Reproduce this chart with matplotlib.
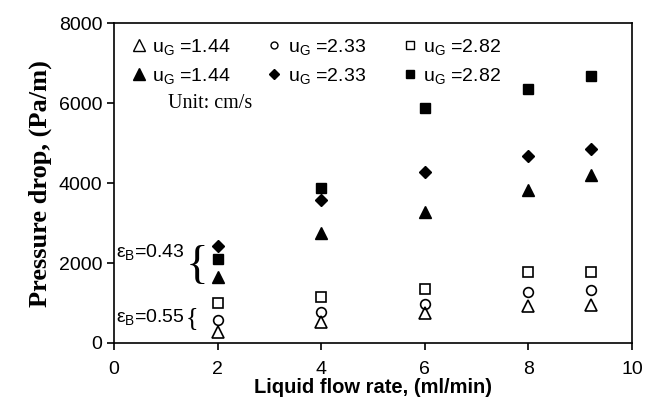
import numpy as np
import matplotlib.pyplot as plt
from matplotlib.lines import Line2D

# liquid flow rate (ml/min)
flow = [2, 4, 6, 8, 9.2]

# eps_B = 0.55 (open markers)
open_144 = [280, 530, 750, 920, 950]
open_233 = [570, 780, 980, 1270, 1320]
open_282 = [1000, 1150, 1350, 1780, 1780]

# eps_B = 0.43 (filled markers)
filled_144 = [1660, 2740, 3280, 3830, 4200]
filled_233 = [2420, 3580, 4270, 4670, 4850]
filled_282 = [2090, 3880, 5870, 6350, 6680]

labels_ug = ['1.44', '2.33', '2.82']

plt.rcParams['font.family'] = ['Liberation Sans', 'DejaVu Sans']
plt.rcParams['mathtext.fontset'] = 'custom'
plt.rcParams['mathtext.rm'] = 'Liberation Sans'
plt.rcParams['mathtext.it'] = 'Liberation Sans'

fig = plt.figure(figsize=(6.46, 4.17), dpi=100)
ax = fig.add_axes([0.1765, 0.1775, 0.802, 0.767])

ms_tri, ms_sq, ms_ci = 9, 7, 7
ax.plot(flow, open_282, 's', ms=ms_sq, mfc='white', mec='black', mew=1.2, ls='none')
ax.plot(flow, open_233, 'o', ms=ms_ci, mfc='white', mec='black', mew=1.2, ls='none')
ax.plot(flow, open_144, '^', ms=ms_tri, mfc='none', mec='black', mew=1.2, ls='none')
ax.plot(flow, filled_144, '^', ms=ms_tri, color='black', ls='none')
ax.plot(flow, filled_233, 'D', ms=6, color='black', ls='none')
ax.plot(flow, filled_282, 's', ms=ms_sq, color='black', ls='none')

ax.set_xlim(0, 10)
ax.set_ylim(0, 8000)
ax.set_xticks([0, 2, 4, 6, 8, 10])
ax.set_yticks([0, 2000, 4000, 6000, 8000])
ax.tick_params(direction='out', length=5, width=1.2, labelsize=14, colors='black')
ax.tick_params(axis='x', pad=8)
for s in ax.spines.values():
    s.set_linewidth(1.2)

ax.set_xlabel('Liquid flow rate, (ml/min)', fontsize=14.5, fontweight='bold', labelpad=0)
ax.set_ylabel('Pressure drop, (Pa/m)', fontsize=19, fontweight='bold',
              family=['Liberation Serif'], labelpad=5)

# legend: row 1 open markers, row 2 filled markers
h = [
    Line2D([], [], marker='^', ls='none', ms=8, mfc='white', mec='black'),
    Line2D([], [], marker='^', ls='none', ms=8, color='black'),
    Line2D([], [], marker='o', ls='none', ms=5, mfc='white', mec='black'),
    Line2D([], [], marker='D', ls='none', ms=5, color='black'),
    Line2D([], [], marker='s', ls='none', ms=6, mfc='white', mec='black'),
    Line2D([], [], marker='s', ls='none', ms=6, color='black'),
]
labs = []
for u in labels_ug:
    labs += [r'u$_\mathrm{G}$ =' + u] * 2
ax.legend(h, labs, ncol=3, loc='upper left', bbox_to_anchor=(0.01, 1.0), frameon=False,
          fontsize=14, handlelength=0.6, handletextpad=0.4, columnspacing=1.95,
          labelspacing=0.45, borderaxespad=0.3)
ax.text(0.105, 0.748, 'Unit: cm/s', transform=ax.transAxes, fontsize=14.5,
        family=['Liberation Serif'], va='center')

# eps_B annotations with braces
ax.text(0.04, 2270, r'$\varepsilon_\mathrm{B}$=0.43', fontsize=14, va='center')
ax.text(1.38, 1900, '{', fontsize=34, va='center', family=['Liberation Serif'])
ax.text(0.04, 640, r'$\varepsilon_\mathrm{B}$=0.55', fontsize=14, va='center')
ax.text(1.38, 620, '{', fontsize=19, va='center', family=['Liberation Serif'])

fig.savefig('out.png', dpi=100)
